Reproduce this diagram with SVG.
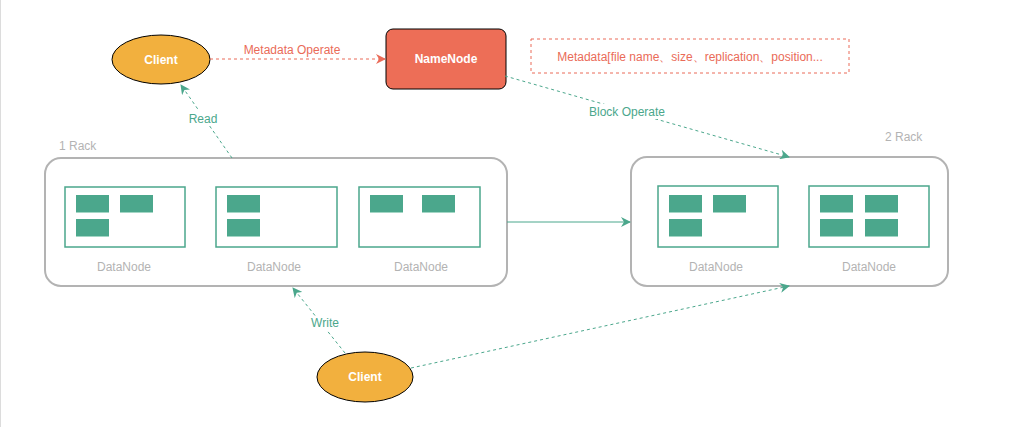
<svg xmlns="http://www.w3.org/2000/svg" width="1009" height="427" viewBox="0 0 1009 427">
<defs>
<style>
text{font-family:"Liberation Sans",Arial,sans-serif;font-size:12px;text-anchor:middle;dominant-baseline:central}
.rack{fill:#fff;stroke:#b3b3b3;stroke-width:2}
.dn{fill:#fff;stroke:#4ba78c;stroke-width:1.5}
.blk{fill:#4ba78c}
.blkb{fill:#a3d6c5}
.dnl{fill:#b3b3b3}
.rl{fill:#b3b3b3;text-anchor:start}
.g{stroke:#4ba78c;fill:none;stroke-width:1}
.gd{stroke:#4ba78c;fill:none;stroke-width:1;stroke-dasharray:3 3}
.rd{stroke:#ea6b58;fill:none;stroke-width:1;stroke-dasharray:3 3}
.gl{fill:#4ba78c}
.rlab{fill:#ea6b58}
.lbg{fill:#fff}
.wt{fill:#fff;font-weight:bold}
</style>
<marker id="ag" viewBox="0 0 10 10" refX="9" refY="5" markerWidth="10" markerHeight="10" markerUnits="userSpaceOnUse" orient="auto"><path d="M0,0 L10,5 L0,10 L3,5 Z" fill="#4ba78c"/></marker>
<marker id="ar" viewBox="0 0 10 10" refX="9" refY="5" markerWidth="10" markerHeight="10" markerUnits="userSpaceOnUse" orient="auto"><path d="M0,0 L10,5 L0,10 L3,5 Z" fill="#ea6b58"/></marker>
</defs>
<rect width="1009" height="427" fill="#fff"/>
<line x1="0.5" y1="0" x2="0.5" y2="427" stroke="#dcdcdc" stroke-width="1"/>

<g id="rack1">
<rect class="rack" x="45" y="158" width="462" height="128" rx="16"/>
<text class="rl" x="59" y="146">1 Rack</text>
</g>
<g id="dn1">
<rect class="dn" x="65" y="187" width="120" height="60"/>
<rect class="blk" x="76" y="195" width="33" height="17"/><rect class="blkb" x="76" y="212" width="33" height="1"/>
<rect class="blk" x="120" y="195" width="33" height="17"/><rect class="blkb" x="120" y="212" width="33" height="1"/>
<rect class="blk" x="76" y="219" width="33" height="17"/><rect class="blkb" x="76" y="236" width="33" height="1"/>
<text class="dnl" x="124" y="267">DataNode</text>
</g>
<g id="dn2">
<rect class="dn" x="216" y="187" width="121" height="60"/>
<rect class="blk" x="227" y="195" width="33" height="17"/><rect class="blkb" x="227" y="212" width="33" height="1"/>
<rect class="blk" x="227" y="219" width="33" height="17"/><rect class="blkb" x="227" y="236" width="33" height="1"/>
<text class="dnl" x="274" y="267">DataNode</text>
</g>
<g id="dn3">
<rect class="dn" x="359" y="187" width="121" height="60"/>
<rect class="blk" x="370" y="195" width="33" height="17"/><rect class="blkb" x="370" y="212" width="33" height="1"/>
<rect class="blk" x="422" y="195" width="33" height="17"/><rect class="blkb" x="422" y="212" width="33" height="1"/>
<text class="dnl" x="421" y="267">DataNode</text>
</g>

<g id="rack2">
<rect class="rack" x="631" y="157" width="317" height="129" rx="16"/>
<text class="rl" x="885" y="137">2 Rack</text>
</g>
<g id="dn4">
<rect class="dn" x="658" y="186" width="120" height="61"/>
<rect class="blk" x="669" y="195" width="33" height="17"/><rect class="blkb" x="669" y="212" width="33" height="1"/>
<rect class="blk" x="713" y="195" width="33" height="17"/><rect class="blkb" x="713" y="212" width="33" height="1"/>
<rect class="blk" x="669" y="219" width="33" height="17"/><rect class="blkb" x="669" y="236" width="33" height="1"/>
<text class="dnl" x="716" y="267">DataNode</text>
</g>
<g id="dn5">
<rect class="dn" x="809" y="186" width="120" height="61"/>
<rect class="blk" x="820" y="195" width="33" height="17"/><rect class="blkb" x="820" y="212" width="33" height="1"/>
<rect class="blk" x="865" y="195" width="33" height="17"/><rect class="blkb" x="865" y="212" width="33" height="1"/>
<rect class="blk" x="820" y="219" width="33" height="17"/><rect class="blkb" x="820" y="236" width="33" height="1"/>
<rect class="blk" x="865" y="219" width="33" height="17"/><rect class="blkb" x="865" y="236" width="33" height="1"/>
<text class="dnl" x="869" y="267">DataNode</text>
</g>

<g id="client-top">
<ellipse cx="161" cy="59.5" rx="49" ry="24.5" fill="#f2b03e" stroke="#000" stroke-width="1"/>
<text class="wt" x="161" y="60">Client</text>
</g>
<g id="namenode">
<rect x="386" y="29" width="120" height="60" rx="7" fill="#ed6e57" stroke="#000" stroke-width="1"/>
<text class="wt" x="446" y="59">NameNode</text>
</g>
<g id="metadata">
<rect x="531" y="39" width="318" height="34" fill="none" stroke="#ea6b58" stroke-width="1" stroke-dasharray="3 3"/>
<text class="rlab" x="690" y="57">Metadata[file name、size、replication、position...</text>
</g>
<g id="client-bottom">
<ellipse cx="365" cy="377" rx="48" ry="25" fill="#f2b03e" stroke="#000" stroke-width="1"/>
<text class="wt" x="365" y="377">Client</text>
</g>

<g id="connectors">
<line class="rd" x1="210" y1="59" x2="385" y2="59" marker-end="url(#ar)"/>
<text class="rlab" x="292" y="50">Metadata Operate</text>

<line class="gd" x1="232" y1="158" x2="181" y2="85" marker-end="url(#ag)"/>
<rect class="lbg" x="188" y="111" width="30" height="15"/>
<text class="gl" x="203" y="119">Read</text>

<line class="gd" x1="505" y1="76" x2="789" y2="157" marker-end="url(#ag)"/>
<rect class="lbg" x="586" y="104" width="82" height="15"/>
<text class="gl" x="627" y="112">Block Operate</text>

<line class="g" x1="507" y1="222" x2="630" y2="222" marker-end="url(#ag)"/>

<line class="gd" x1="345" y1="353" x2="293" y2="288" marker-end="url(#ag)"/>
<rect class="lbg" x="309" y="316" width="32" height="15"/>
<text class="gl" x="325" y="323">Write</text>

<line class="gd" x1="411" y1="368" x2="789" y2="286" marker-end="url(#ag)"/>
</g>
</svg>
